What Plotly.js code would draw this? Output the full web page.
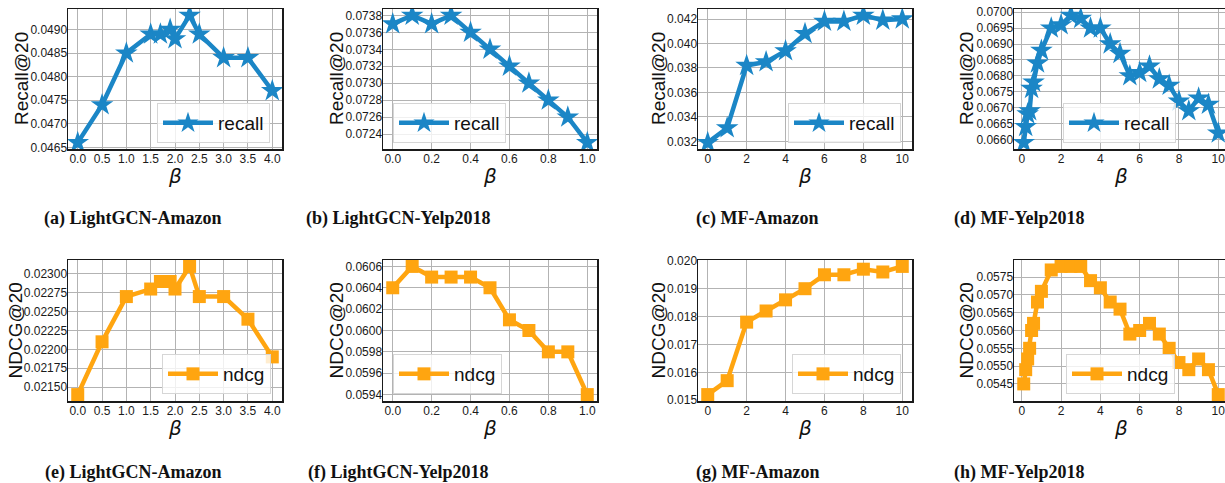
<!DOCTYPE html>
<html>
<head>
<meta charset="utf-8">
<script src="https://cdn.plot.ly/plotly-3.0.1.min.js"></script>
<style>
html,body{margin:0;padding:0;overflow:hidden;background:#fff;}
#chart{width:1232px;height:483px;}
</style>
</head>
<body>
<div id="chart"></div>
<script>
// ---------- data ----------
const lgAmazonBeta = [0.0, 0.5, 1.0, 1.5, 1.7, 1.9, 2.0, 2.3, 2.5, 3.0, 3.5, 4.0];
const lgAmazonRecall = [0.0466, 0.0474, 0.0485, 0.0489, 0.0489, 0.0490, 0.0488, 0.0493, 0.0489, 0.0484, 0.0484, 0.0477];
const lgAmazonNdcg = [0.02140, 0.02210, 0.02270, 0.02280, 0.02290, 0.02290, 0.02280, 0.02310, 0.02270, 0.02270, 0.02240, 0.02190];

const lgYelpBeta = [0.0, 0.1, 0.2, 0.3, 0.4, 0.5, 0.6, 0.7, 0.8, 0.9, 1.0];
const lgYelpRecall = [0.0737, 0.0738, 0.0737, 0.0738, 0.0736, 0.0734, 0.0732, 0.0730, 0.0728, 0.0726, 0.0723];
const lgYelpNdcg = [0.0604, 0.0606, 0.0605, 0.0605, 0.0605, 0.0604, 0.0601, 0.0600, 0.0598, 0.0598, 0.0594];

const mfAmazonBeta = [0, 1, 2, 3, 4, 5, 6, 7, 8, 9, 10];
const mfAmazonRecall = [0.0319, 0.0331, 0.0382, 0.0385, 0.0394, 0.0408, 0.0418, 0.0418, 0.0423, 0.0419, 0.0420];
const mfAmazonNdcg = [0.0152, 0.0157, 0.0178, 0.0182, 0.0186, 0.0190, 0.0195, 0.0195, 0.0197, 0.0196, 0.0198];

const mfYelpBeta = [0.1, 0.2, 0.3, 0.4, 0.5, 0.6, 0.8, 1.0, 1.5, 2.0, 2.5, 3.0, 3.5, 4.0, 4.5, 5.0, 5.5, 6.0, 6.5, 7.0, 7.5, 8.0, 8.5, 9.0, 9.5, 10.0];
const mfYelpRecall = [0.0659, 0.0664, 0.0668, 0.0669, 0.0676, 0.0678, 0.0684, 0.0688, 0.0695, 0.0696, 0.0699, 0.0698, 0.0695, 0.0695, 0.0690, 0.0687, 0.0680, 0.0681, 0.0683, 0.0679, 0.0677, 0.0672, 0.0669, 0.0673, 0.0671, 0.0662];
const mfYelpNdcg = [0.0545, 0.0549, 0.0552, 0.0555, 0.0560, 0.0562, 0.0568, 0.0571, 0.0577, 0.0578, 0.0578, 0.0578, 0.0574, 0.0572, 0.0568, 0.0566, 0.0559, 0.0560, 0.0562, 0.0559, 0.0555, 0.0551, 0.0549, 0.0552, 0.0549, 0.0542];

const captions = ["(a) LightGCN-Amazon", "(b) LightGCN-Yelp2018", "(c) MF-Amazon", "(d) MF-Yelp2018",
                  "(e) LightGCN-Amazon", "(f) LightGCN-Yelp2018", "(g) MF-Amazon", "(h) MF-Yelp2018"];
const yTitles = ["Recall@20", "Recall@20", "Recall@20", "Recall@20", "NDCG@20", "NDCG@20", "NDCG@20", "NDCG@20"];
const seriesNames = ["recall", "ndcg"];

const xTicksLg1 = [0.0, 0.5, 1.0, 1.5, 2.0, 2.5, 3.0, 3.5, 4.0];
const xTicksLg2 = [0.0, 0.2, 0.4, 0.6, 0.8, 1.0];
const xTicksMf = [0, 2, 4, 6, 8, 10];
const yTicksA = [0.0465, 0.0470, 0.0475, 0.0480, 0.0485, 0.0490];
const yTicksB = [0.0724, 0.0726, 0.0728, 0.0730, 0.0732, 0.0734, 0.0736, 0.0738];
const yTicksC = [0.032, 0.034, 0.036, 0.038, 0.040, 0.042];
const yTicksD = [0.0660, 0.0665, 0.0670, 0.0675, 0.0680, 0.0685, 0.0690, 0.0695, 0.0700];
const yTicksE = [0.02150, 0.02175, 0.02200, 0.02225, 0.02250, 0.02275, 0.02300];
const yTicksF = [0.0594, 0.0596, 0.0598, 0.0600, 0.0602, 0.0604, 0.0606];
const yTicksG = [0.015, 0.016, 0.017, 0.018, 0.019, 0.020];
const yTicksH = [0.0545, 0.0550, 0.0555, 0.0560, 0.0565, 0.0570, 0.0575];

// ---------- layout helpers ----------
const W = 1232, H = 483;
const BLUE = '#1b86c6', ORANGE = '#ffa510';
const cols = [[68, 282], [383, 597], [698, 912], [1014, 1228]];
const rows = [[9, 149], [260, 401]];
const capX = [133, 398, 757, 1019];
const capY = [218, 472];
const yTitleX = [[21, 336, 658, 966], [15, 336, 658, 966]];
const legendPos = [[[157, 103], [393, 103], [788, 103], [1063, 103]],
                   [[162, 354], [393, 354], [792, 354], [1066, 354]]];

function pad(arr) {
  const mn = Math.min(...arr), mx = Math.max(...arr), m = (mx - mn) * 0.05;
  return [mn - m, mx + m];
}

const panels = [
  {x: lgAmazonBeta, y: lgAmazonRecall, xt: xTicksLg1, yt: yTicksA, xf: '.1f', yf: '.4f', s: 0},
  {x: lgYelpBeta, y: lgYelpRecall, xt: xTicksLg2, yt: yTicksB, xf: '.1f', yf: '.4f', s: 0},
  {x: mfAmazonBeta, y: mfAmazonRecall, xt: xTicksMf, yt: yTicksC, xf: 'd', yf: '.3f', s: 0},
  {x: mfYelpBeta, y: mfYelpRecall, xt: xTicksMf, yt: yTicksD, xf: 'd', yf: '.4f', s: 0},
  {x: lgAmazonBeta, y: lgAmazonNdcg, xt: xTicksLg1, yt: yTicksE, xf: '.1f', yf: '.5f', s: 1},
  {x: lgYelpBeta, y: lgYelpNdcg, xt: xTicksLg2, yt: yTicksF, xf: '.1f', yf: '.4f', s: 1},
  {x: mfAmazonBeta, y: mfAmazonNdcg, xt: xTicksMf, yt: yTicksG, xf: 'd', yf: '.3f', s: 1},
  {x: mfYelpBeta, y: mfYelpNdcg, xt: xTicksMf, yt: yTicksH, xf: 'd', yf: '.4f', s: 1}
];

const data = [];
const layout = {
  width: W, height: H,
  margin: {l: 0, r: 0, t: 0, b: 0},
  paper_bgcolor: '#ffffff', plot_bgcolor: '#ffffff',
  font: {family: 'Liberation Sans, Arial, sans-serif', color: '#111'},
  annotations: [],
  showlegend: true
};

panels.forEach((p, i) => {
  const r = Math.floor(i / 4), c = i % 4;
  const n = i === 0 ? '' : String(i + 1);
  const isRecall = p.s === 0;
  const color = isRecall ? BLUE : ORANGE;
  data.push({
    type: 'scatter', mode: 'lines+markers',
    x: p.x, y: p.y,
    xaxis: 'x' + n, yaxis: 'y' + n,
    name: seriesNames[p.s],
    legend: 'legend' + n,
    line: {color: color, width: 4.5},
    marker: {symbol: isRecall ? 'star' : 'square', size: isRecall ? 17 : 13, color: color, line: {width: 0}}
  });
  const axCommon = {
    showgrid: true, gridcolor: '#b3b3b3', gridwidth: 1,
    zeroline: false, showline: true, linecolor: '#1a1a1a', linewidth: 1.5, mirror: true,
    ticks: '', tickfont: {size: 12, color: '#1a1a1a', family: 'Liberation Sans, Arial, sans-serif'},
    fixedrange: true
  };
  layout['xaxis' + n] = Object.assign({}, axCommon, {
    domain: [cols[c][0] / W, cols[c][1] / W],
    anchor: 'y' + n,
    range: pad(p.x), tickvals: p.xt, tickformat: p.xf,
    ticklabelstandoff: -2
  });
  layout['yaxis' + n] = Object.assign({}, axCommon, {
    domain: [1 - rows[r][1] / H, 1 - rows[r][0] / H],
    anchor: 'x' + n,
    range: pad(p.y), tickvals: p.yt, tickformat: p.yf,
    ticklabelstandoff: -3
  });
  layout['legend' + n] = {
    x: legendPos[r][c][0] / W, y: 1 - legendPos[r][c][1] / H,
    xanchor: 'left', yanchor: 'top', xref: 'paper', yref: 'paper',
    bgcolor: 'rgba(255,255,255,0.8)', bordercolor: '#d6d6d6', borderwidth: 1,
    font: {size: 19, color: '#111', family: 'Liberation Sans, Arial, sans-serif'},
    itemwidth: 50
  };
  // y title
  layout.annotations.push({
    xref: 'paper', yref: 'paper', x: yTitleX[r][c] / W, y: 1 - ((rows[r][0] + rows[r][1]) / 2) / H,
    xanchor: 'center', yanchor: 'middle', textangle: -90, showarrow: false,
    text: yTitles[i], font: {size: 19, color: '#111', family: 'Liberation Sans, Arial, sans-serif'}
  });
  // x title
  layout.annotations.push({
    xref: 'paper', yref: 'paper', x: ((cols[c][0] + cols[c][1]) / 2) / W, y: 1 - (r === 0 ? 176 : 428) / H,
    xanchor: 'center', yanchor: 'middle', showarrow: false,
    text: '<i>β</i>', font: {size: 20, color: '#111', family: 'DejaVu Sans, sans-serif'}
  });
  // caption
  layout.annotations.push({
    xref: 'paper', yref: 'paper', x: capX[c] / W, y: 1 - capY[r] / H,
    xanchor: 'center', yanchor: 'middle', showarrow: false,
    text: '<b>' + captions[i] + '</b>', font: {size: 18, color: '#111', family: 'Liberation Serif, Times New Roman, serif'}
  });
});

Plotly.newPlot('chart', data, layout, {displayModeBar: false, staticPlot: true});
</script>
</body>
</html>
